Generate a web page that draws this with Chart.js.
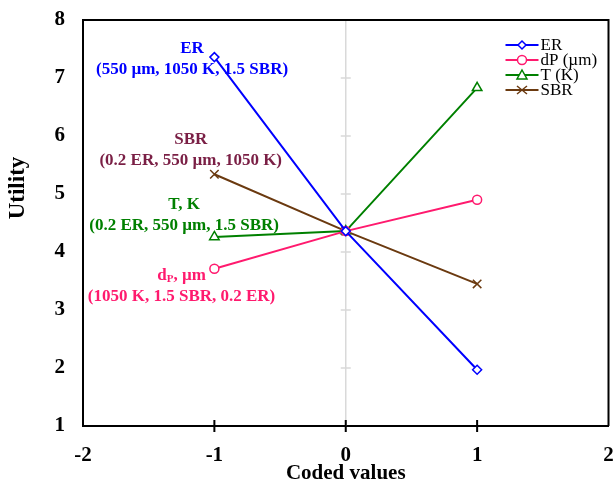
<!DOCTYPE html>
<html>
<head>
<meta charset="utf-8">
<script src="https://cdn.jsdelivr.net/npm/chart.js@4.4.0/dist/chart.umd.min.js"></script>
<style>
  html, body { margin: 0; padding: 0; background: #fff; }
  #wrap { width: 616px; height: 484px; }
</style>
</head>
<body>
<div id="wrap"><canvas id="utilChart"></canvas></div>
<script>
// values
const codes = [-1, 0, 1];
const erVals = [7.36, 4.36, 1.97];
const dpVals = [3.71, 4.36, 4.90];
const tVals = [4.26, 4.36, 6.83];
const sbrVals = [5.34, 4.36, 3.45];
const seriesNames = ['ER', 'dP (\u00b5m)', 'T (K)', 'SBR'];
const xTicks = [-2, -1, 0, 1, 2];
const yTicks = [1, 2, 3, 4, 5, 6, 7, 8];

const serif = '"Liberation Serif", "DejaVu Serif", serif';

function pts(vals) {
  return codes.map((c, i) => ({ x: c, y: vals[i] }));
}

// side notes next to the -1 points (data units)
const notes = [
  { x: -1.17, y: 7.5, color: '#0000ff', lines: ['ER', '(550 \u00b5m, 1050 K, 1.5 SBR)'] },
  { x: -1.18, y: 5.93, color: '#7a1f45', lines: ['SBR', '(0.2 ER, 550 \u00b5m, 1050 K)'] },
  { x: -1.23, y: 4.81, color: '#008000', lines: ['T, K', '(0.2 ER, 550 \u00b5m, 1.5 SBR)'] },
  { x: -1.25, y: 3.6, color: '#ff1a6e', lines: ['dP', '(1050 K, 1.5 SBR, 0.2 ER)'] }
];

function drawMarker(c, style, x, y, color) {
  c.save();
  c.strokeStyle = color;
  c.fillStyle = '#fff';
  c.lineWidth = 1.5;
  c.beginPath();
  if (style === 'rectRot') {
    c.moveTo(x, y - 4); c.lineTo(x + 4, y); c.lineTo(x, y + 4); c.lineTo(x - 4, y); c.closePath();
    c.fill(); c.stroke();
  } else if (style === 'circle') {
    c.arc(x, y, 4.5, 0, Math.PI * 2); c.fill(); c.stroke();
  } else if (style === 'triangle') {
    c.moveTo(x, y - 5); c.lineTo(x + 5, y + 4); c.lineTo(x - 5, y + 4); c.closePath();
    c.fill(); c.stroke();
  } else {
    c.moveTo(x - 5, y - 4); c.lineTo(x + 5, y + 4);
    c.moveTo(x + 5, y - 4); c.lineTo(x - 5, y + 4); c.stroke();
  }
  c.restore();
}

function noPad(s) {
  s.paddingTop = 0; s.paddingBottom = 0; s.paddingLeft = 0; s.paddingRight = 0;
}

const decor = {
  id: 'decor',
  beforeDatasetsDraw(chart) {
    const c = chart.ctx, xs = chart.scales.x, ys = chart.scales.y, a = chart.chartArea;
    const x0 = xs.getPixelForValue(0);
    c.save();
    c.strokeStyle = '#d9d9d9';
    c.lineWidth = 1.5;
    c.beginPath();
    c.moveTo(x0, a.top); c.lineTo(x0, a.bottom);
    yTicks.slice(1, -1).forEach(v => {
      const y = ys.getPixelForValue(v);
      c.moveTo(x0 - 5, y); c.lineTo(x0 + 5, y);
    });
    c.stroke();
    c.restore();
  },
  afterDraw(chart) {
    const c = chart.ctx, xs = chart.scales.x, ys = chart.scales.y, a = chart.chartArea;
    c.save();
    // frame top/right + crossing ticks
    c.strokeStyle = '#000';
    c.lineWidth = 2;
    c.beginPath();
    c.moveTo(a.left, a.top); c.lineTo(a.right, a.top); c.lineTo(a.right, a.bottom);
    xTicks.slice(1, -1).forEach(v => {
      const x = xs.getPixelForValue(v);
      c.moveTo(x, a.bottom - 6); c.lineTo(x, a.bottom + 6);
    });
    c.stroke();

    // y title
    c.save();
    c.translate(18, 188);
    c.rotate(-Math.PI / 2);
    c.fillStyle = '#000';
    c.font = 'bold 23px ' + serif;
    c.textAlign = 'center';
    c.textBaseline = 'middle';
    c.fillText('Utility', 0, 0);
    c.restore();

    // notes
    const big = 'bold 17px ' + serif, small = 'bold 11px ' + serif;
    c.font = big;
    c.textBaseline = 'middle';
    notes.forEach(n => {
      const cx = xs.getPixelForValue(n.x);
      const y1 = ys.getPixelForValue(n.y);
      c.fillStyle = n.color;
      c.textAlign = 'center';
      if (n.lines[0] === 'dP') {
        const a1 = 'd', sub = 'P', a2 = ', \u00b5m';
        c.font = big;
        const w1 = c.measureText(a1).width, w2 = c.measureText(a2).width;
        c.font = small;
        const ws = c.measureText(sub).width;
        const sx = cx - (w1 + ws + w2) / 2;
        c.textAlign = 'left';
        c.font = big;
        c.fillText(a1, sx, y1);
        c.font = small;
        c.fillText(sub, sx + w1, y1 + 4);
        c.font = big;
        c.fillText(a2, sx + w1 + ws, y1);
        c.textAlign = 'center';
      } else {
        c.fillText(n.lines[0], cx, y1);
      }
      c.fillText(n.lines[1], cx, y1 + 21);
    });

    // legend
    c.font = '17px ' + serif;
    c.textAlign = 'left';
    c.textBaseline = 'middle';
    chart.data.datasets.forEach((ds, i) => {
      const y = a.top + 25 + i * 15;
      const lx = a.right - 103;
      c.strokeStyle = ds.borderColor;
      c.lineWidth = 2;
      c.beginPath();
      c.moveTo(lx, y); c.lineTo(lx + 33, y); c.stroke();
      drawMarker(c, ds.pointStyle, lx + 16.5, y, ds.borderColor);
      c.fillStyle = '#000';
      c.fillText(seriesNames[i], lx + 35, y + 1);
    });
    c.restore();
  }
};

function series(label, vals, color, style, radius) {
  return {
    label: label,
    data: pts(vals),
    borderColor: color,
    backgroundColor: color,
    borderWidth: 2,
    pointStyle: style,
    pointRadius: radius,
    pointBorderWidth: 1.5,
    pointBackgroundColor: '#fff',
    pointBorderColor: color,
    tension: 0
  };
}

const ctx = document.getElementById('utilChart').getContext('2d');

new Chart(ctx, {
  type: 'line',
  data: {
    datasets: [
      series(seriesNames[0], erVals, '#0000ff', 'rectRot', 4.5),
      series(seriesNames[1], dpVals, '#ff1a6e', 'circle', 4.5),
      series(seriesNames[2], tVals, '#008000', 'triangle', 5.5),
      series(seriesNames[3], sbrVals, '#6b3a10', 'crossRot', 6)
    ]
  },
  options: {
    responsive: true,
    maintainAspectRatio: false,
    animation: false,
    layout: { padding: { left: 0, right: 6, top: 20, bottom: 0 } },
    plugins: {
      legend: { display: false },
      tooltip: { enabled: false }
    },
    scales: {
      x: {
        type: 'linear',
        min: -2,
        max: 2,
        afterFit(s) { s.height = 58; noPad(s); },
        afterBuildTicks(s) { s.ticks = xTicks.map(v => ({ value: v })); },
        grid: { display: false, drawTicks: false },
        border: { display: true, color: '#000', width: 2 },
        ticks: {
          padding: 17,
          color: '#000',
          font: { family: serif, size: 21, weight: 'bold' }
        },
        title: {
          display: true,
          text: 'Coded values',
          color: '#000',
          padding: { top: 0, bottom: -2 },
          font: { family: serif, size: 21, weight: 'bold' }
        }
      },
      y: {
        min: 1,
        max: 8,
        afterFit(s) { s.width = 83; noPad(s); },
        afterBuildTicks(s) { s.ticks = yTicks.map(v => ({ value: v })); },
        grid: { display: false, drawTicks: false },
        border: { display: true, color: '#000', width: 2 },
        ticks: {
          padding: 18,
          color: '#000',
          font: { family: serif, size: 21, weight: 'bold' }
        }
      }
    }
  },
  plugins: [decor]
});
</script>
</body>
</html>
